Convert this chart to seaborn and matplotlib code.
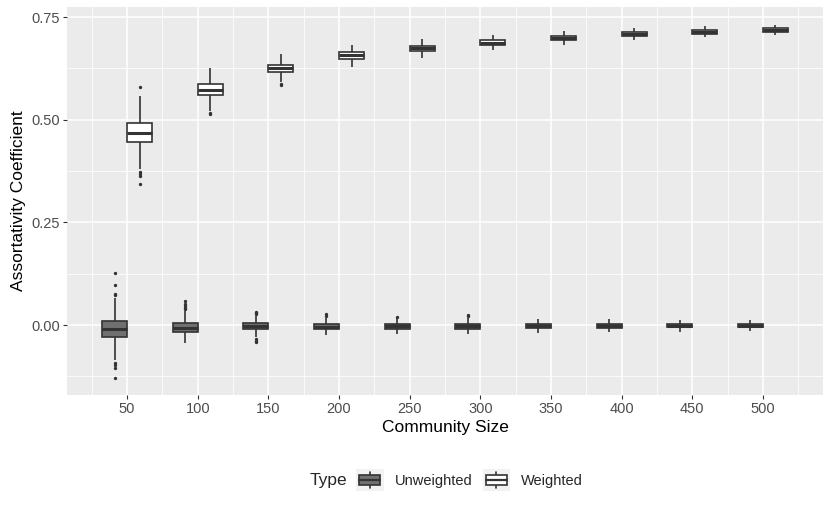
import numpy as np
import pandas as pd
import matplotlib
matplotlib.use('Agg')
import matplotlib.pyplot as plt
from matplotlib.legend_handler import HandlerBase
from matplotlib.patches import Rectangle, Patch
from matplotlib.lines import Line2D
import seaborn as sns

# community sizes (x categories) and series names
sizes = ['50', '100', '150', '200', '250', '300', '350', '400', '450', '500']
types = ['Unweighted', 'Weighted']

# unweighted: box summary
unw_q1 = [-0.030, -0.016, -0.010, -0.0105, -0.009, -0.009, -0.008, -0.007, -0.006, -0.006]
unw_med = [-0.010, -0.008, -0.003, -0.004, -0.003, -0.003, -0.002, -0.002, -0.002, -0.002]
unw_q3 = [0.010, 0.004, 0.0037, 0.0024, 0.002, 0.002, 0.002, 0.002, 0.002, 0.002]
unw_lo = [-0.085, -0.044, -0.029, -0.021, -0.020, -0.019, -0.019, -0.016, -0.016, -0.015]
unw_hi = [0.066, 0.033, 0.022, 0.018, 0.016, 0.016, 0.014, 0.014, 0.012, 0.013]
unw_out = [
    [0.072, 0.076, 0.098, 0.127, -0.093, -0.097, -0.105, -0.128],
    [0.038, 0.042, 0.047, 0.052, 0.058],
    [0.026, 0.029, 0.032, -0.034, -0.038, -0.042],
    [0.023, 0.027, -0.025],
    [0.020, -0.023],
    [0.021, 0.024, -0.022],
    [], [], [], [],
]

# weighted: box summary
wtd_q1 = [0.446, 0.560, 0.616, 0.649, 0.667, 0.683, 0.695, 0.703, 0.710, 0.715]
wtd_med = [0.468, 0.572, 0.625, 0.657, 0.674, 0.688, 0.700, 0.708, 0.714, 0.719]
wtd_q3 = [0.491, 0.587, 0.634, 0.665, 0.680, 0.694, 0.705, 0.713, 0.718, 0.723]
wtd_lo = [0.380, 0.522, 0.592, 0.628, 0.650, 0.671, 0.683, 0.694, 0.701, 0.707]
wtd_hi = [0.557, 0.627, 0.660, 0.682, 0.696, 0.707, 0.716, 0.724, 0.728, 0.732]
wtd_out = [
    [0.580, 0.372, 0.367, 0.362, 0.343],
    [0.516, 0.513],
    [0.586, 0.584],
    [], [], [], [], [], [], [],
]


def expand(q1, med, q3, lo, hi, out):
    # builds a sample whose quartiles / whiskers match the given summary
    low = sorted(v for v in out if v < med)
    high = sorted(v for v in out if v > med)
    p = max(len(low), len(high)) + 1
    lower = low + [lo] * (p - len(low))
    upper = [hi] * (p - len(high)) + high
    return lower + [q1] * p + [med] + [q3] * p + upper


rows = []
for i, s in enumerate(sizes):
    for v in expand(unw_q1[i], unw_med[i], unw_q3[i], unw_lo[i], unw_hi[i], unw_out[i]):
        rows.append((s, 'Unweighted', v))
    for v in expand(wtd_q1[i], wtd_med[i], wtd_q3[i], wtd_lo[i], wtd_hi[i], wtd_out[i]):
        rows.append((s, 'Weighted', v))
df = pd.DataFrame(rows, columns=['size', 'Type', 'value'])

sns.set_theme(style='darkgrid', rc={'axes.facecolor': '#EBEBEB', 'figure.facecolor': 'white'})
plt.rcParams['font.family'] = ['Liberation Sans', 'DejaVu Sans']

edge = '#333333'
fills = {'Unweighted': '#707070', 'Weighted': 'white'}

fig, ax = plt.subplots(figsize=(8.3, 5.13), dpi=100)
fig.subplots_adjust(left=67 / 830, right=823 / 830, top=1 - 7 / 513, bottom=1 - 395 / 513)

sns.boxplot(data=df, x='size', y='value', hue='Type', order=sizes, hue_order=types,
            palette=fills, saturation=1, width=0.71, gap=0, linecolor=edge, linewidth=1.2,
            fliersize=1.4, flierprops=dict(marker='o', markerfacecolor=edge, markeredgecolor=edge),
            medianprops=dict(linewidth=2.2, color=edge), capprops=dict(linewidth=0),
            legend=False, ax=ax)

ax.set_xlim(-0.85, 9.85)
ax.set_ylim(-0.1705, 0.7747)
ax.set_yticks([0, 0.25, 0.5, 0.75])
ax.set_yticklabels(['0.00', '0.25', '0.50', '0.75'])
ax.set_yticks([-0.125, 0.125, 0.375, 0.625], minor=True)
ax.set_xticks(np.arange(-0.5, 10, 1), minor=True)
ax.grid(which='major', color='white', linewidth=1.1)
ax.grid(which='minor', color='white', linewidth=0.55)
ax.set_axisbelow(True)
for sp in ax.spines.values():
    sp.set_visible(False)
ax.tick_params(which='major', length=3, width=0.8, color=edge, labelsize=10.5,
               labelcolor='#4D4D4D', pad=2, left=True, bottom=True)
ax.tick_params(which='minor', length=0)

ax.set_xlabel('Community Size', fontsize=12.5, color='black', labelpad=3)
ax.set_ylabel('Assortativity Coefficient', fontsize=12.5, color='black', labelpad=4)


class BoxKey(HandlerBase):
    def create_artists(self, legend, orig_handle, xdescent, ydescent, width, height, fontsize, trans):
        x0, y0 = -xdescent, -ydescent
        bg = Rectangle((x0, y0), width, height, facecolor='#F2F2F2', edgecolor='none', transform=trans)
        cx = x0 + width / 2
        wh = Line2D([cx, cx], [y0 + 0.12 * height, y0 + 0.88 * height], color=edge, lw=1.2, transform=trans)
        box = Rectangle((x0 + 0.12 * width, y0 + 0.25 * height), 0.76 * width, 0.5 * height,
                        facecolor=orig_handle.get_facecolor(), edgecolor=edge, lw=1.2, transform=trans)
        med = Line2D([x0 + 0.12 * width, x0 + 0.88 * width], [y0 + 0.5 * height] * 2,
                     color=edge, lw=1.6, transform=trans)
        return [bg, wh, box, med]


handles = [Patch(facecolor=fills[t]) for t in types]
fig.legend(handles, types, handler_map={Patch: BoxKey()}, loc='center left',
           bbox_to_anchor=(356 / 830, 1 - 480 / 513), ncol=2, frameon=False,
           fontsize=10.5, handlelength=1.9, handleheight=1.9, handletextpad=0.75,
           columnspacing=0.7, borderpad=0, borderaxespad=0)
fig.text(347 / 830, 1 - 480 / 513, 'Type', ha='right', va='center', fontsize=12.5)

fig.savefig('out.png', dpi=100)
